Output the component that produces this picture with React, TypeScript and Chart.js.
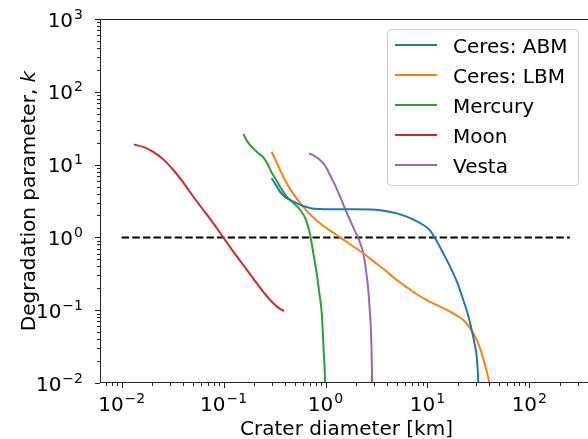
import React, { useEffect, useRef } from "react";
import { Chart, registerables } from "chart.js";

Chart.register(...registerables);

// ---- data ----
const ceresAbmX = [0.296, 0.33, 0.357, 0.4, 0.448, 0.52, 0.605, 0.72, 0.883, 1.1, 1.5, 2.0, 2.73, 3.43, 4.2, 5.0, 6.26, 7.5, 9.12, 10.5, 11.9, 14, 16.7, 19.5, 22.5, 25, 27.2, 29, 30.5, 31.6, 31.9];
const ceresAbmY = [6.49, 5.1, 4.25, 3.6, 3.27, 2.95, 2.7, 2.52, 2.45, 2.43, 2.44, 2.44, 2.42, 2.36, 2.25, 2.14, 1.93, 1.72, 1.48, 1.27, 0.97, 0.64, 0.396, 0.245, 0.138, 0.087, 0.0534, 0.035, 0.023, 0.01, 0.006];

const ceresLbmX = [0.296, 0.33, 0.385, 0.45, 0.583, 0.7, 0.883, 1.1, 1.39, 1.8, 2.35, 3.2, 4.0, 5.0, 6.5, 8.0, 9.84, 12, 15.5, 19, 22.5, 25.5, 28.2, 31, 34.1, 37, 40.5, 41.5];
const ceresLbmY = [15.0, 10.8, 6.82, 4.6, 2.79, 2.09, 1.56, 1.25, 1.0, 0.78, 0.605, 0.43, 0.337, 0.26, 0.2, 0.163, 0.138, 0.12, 0.101, 0.086, 0.0733, 0.06, 0.0482, 0.037, 0.0256, 0.0171, 0.01, 0.008];

const mercuryX = [0.156, 0.172, 0.195, 0.22, 0.245, 0.27, 0.296, 0.332, 0.37, 0.416, 0.48, 0.562, 0.644, 0.705, 0.76, 0.82, 0.87, 0.919, 0.966, 0.985, 0.998];
const mercuryY = [26.3, 20.5, 16.7, 14.3, 12.6, 10.2, 7.8, 6.0, 4.6, 3.62, 3.0, 2.4, 1.73, 1.1, 0.6, 0.321, 0.17, 0.0906, 0.023, 0.013, 0.005];

const moonX = [0.0132, 0.0165, 0.0204, 0.0256, 0.0321, 0.0403, 0.0505, 0.0632, 0.0793, 0.0993, 0.1245, 0.156, 0.195, 0.245, 0.3075, 0.355, 0.392];
const moonY = [18.8, 17.4, 15.0, 11.8, 8.43, 5.64, 3.62, 2.38, 1.56, 1.0, 0.637, 0.418, 0.274, 0.179, 0.1245, 0.105, 0.0975];

const vestaX = [0.689, 0.78, 0.883, 1.0, 1.107, 1.25, 1.39, 1.55, 1.74, 1.92, 2.1, 2.35, 2.5, 2.63, 2.72, 2.8, 2.85, 2.87];
const vestaY = [14.3, 13.1, 11.6, 9.5, 7.19, 5.1, 3.62, 2.5, 1.73, 1.27, 0.97, 0.605, 0.35, 0.189, 0.1, 0.048, 0.017, 0.007];

const thresholdX = [0.01, 250];
const thresholdY = [1, 1];

const seriesLabels = ["Ceres: ABM", "Ceres: LBM", "Mercury", "Moon", "Vesta"];
const seriesColors = ["#1f77b4", "#ff7f0e", "#2ca02c", "#d62728", "#9467bd"];

const xTickExps = [-2, -1, 0, 1, 2];
const yTickExps = [-2, -1, 0, 1, 2, 3];
const xLimits = [Math.pow(10, -2.213), Math.pow(10, 2.625)];
const yLimits = [0.01, 1000];

const xTitle = "Crater diameter [km]";
const yTitleMain = "Degradation parameter, ";
const yTitleItalic = "k";

const FONT = "'DejaVu Sans', sans-serif";

function pts(xs: number[], ys: number[]) {
  return xs.map((x, i) => ({ x, y: ys[i] }));
}

function expStr(e: number) {
  return e < 0 ? "\u2212" + Math.abs(e) : String(e);
}

function drawPow(ctx: CanvasRenderingContext2D, e: number, x: number, baseline: number, align: "center" | "right") {
  ctx.font = `20px ${FONT}`;
  const w10 = ctx.measureText("10").width;
  ctx.font = `14px ${FONT}`;
  const es = expStr(e);
  const we = ctx.measureText(es).width;
  const total = w10 + we + 1;
  const left = align === "center" ? x - total / 2 : x - total;
  ctx.textAlign = "left";
  ctx.textBaseline = "alphabetic";
  ctx.fillStyle = "#000";
  ctx.font = `20px ${FONT}`;
  ctx.fillText("10", left, baseline);
  ctx.font = `14px ${FONT}`;
  ctx.fillText(es, left + w10 + 1, baseline - 8);
}

const axesPlugin = {
  id: "mplAxes",
  afterDraw(chart: any) {
    const ctx: CanvasRenderingContext2D = chart.ctx;
    const { left, right, top, bottom } = chart.chartArea;
    const xs = chart.scales.x;
    const ys = chart.scales.y;
    ctx.save();
    ctx.strokeStyle = "#222";
    ctx.lineWidth = 1;
    ctx.strokeRect(left + 0.5, top + 0.5, right - left - 1, bottom - top - 1);

    const drawXTick = (v: number, len: number) => {
      const px = Math.round(xs.getPixelForValue(v)) + 0.5;
      if (px < left || px > right) return;
      ctx.beginPath();
      ctx.moveTo(px, bottom);
      ctx.lineTo(px, bottom + len);
      ctx.stroke();
    };
    const drawYTick = (v: number, len: number) => {
      const py = Math.round(ys.getPixelForValue(v)) + 0.5;
      if (py < top - 1 || py > bottom + 1) return;
      ctx.beginPath();
      ctx.moveTo(left, py);
      ctx.lineTo(left - len, py);
      ctx.stroke();
    };
    for (let e = -3; e <= 3; e++) {
      for (let m = 2; m <= 9; m++) {
        const v = m * Math.pow(10, e);
        if (v > xLimits[0] && v < xLimits[1]) drawXTick(v, 3);
        if (v > yLimits[0] && v < yLimits[1]) drawYTick(v, 3);
      }
    }
    xTickExps.forEach((e) => drawXTick(Math.pow(10, e), 5));
    yTickExps.forEach((e) => drawYTick(Math.pow(10, e), 5));

    xTickExps.forEach((e) => {
      const px = xs.getPixelForValue(Math.pow(10, e));
      drawPow(ctx, e, px, bottom + 28, "center");
    });
    yTickExps.forEach((e) => {
      const py = ys.getPixelForValue(Math.pow(10, e));
      drawPow(ctx, e, left - 17, py + 7.5, "right");
    });

    ctx.fillStyle = "#000";
    ctx.font = `20px ${FONT}`;
    ctx.textAlign = "center";
    ctx.textBaseline = "alphabetic";
    ctx.fillText(xTitle, (left + right) / 2, bottom + 52);

    ctx.save();
    ctx.translate(35, (top + bottom) / 2);
    ctx.rotate(-Math.PI / 2);
    ctx.font = `20px ${FONT}`;
    const w1 = ctx.measureText(yTitleMain).width;
    ctx.font = `oblique 20px ${FONT}`;
    const w2 = ctx.measureText(yTitleItalic).width;
    const start = -(w1 + w2) / 2;
    ctx.textAlign = "left";
    ctx.font = `20px ${FONT}`;
    ctx.fillText(yTitleMain, start, 0);
    ctx.font = `oblique 20px ${FONT}`;
    ctx.fillText(yTitleItalic, start + w1, 0);
    ctx.restore();

    const bx = 387.5, by = 29.5, bw = 191, bh = 156, r = 4;
    ctx.beginPath();
    ctx.moveTo(bx + r, by);
    ctx.lineTo(bx + bw - r, by);
    ctx.quadraticCurveTo(bx + bw, by, bx + bw, by + r);
    ctx.lineTo(bx + bw, by + bh - r);
    ctx.quadraticCurveTo(bx + bw, by + bh, bx + bw - r, by + bh);
    ctx.lineTo(bx + r, by + bh);
    ctx.quadraticCurveTo(bx, by + bh, bx, by + bh - r);
    ctx.lineTo(bx, by + r);
    ctx.quadraticCurveTo(bx, by, bx + r, by);
    ctx.closePath();
    ctx.fillStyle = "rgba(255,255,255,0.8)";
    ctx.fill();
    ctx.strokeStyle = "#cccccc";
    ctx.lineWidth = 1;
    ctx.stroke();

    const dsets = chart.data.datasets.filter((d: any) => d.label);
    dsets.forEach((d: any, i: number) => {
      const cy = 45 + i * 30;
      ctx.strokeStyle = d.borderColor;
      ctx.lineWidth = 2;
      ctx.beginPath();
      ctx.moveTo(395, cy);
      ctx.lineTo(437, cy);
      ctx.stroke();
      ctx.fillStyle = "#000";
      ctx.font = `20px ${FONT}`;
      ctx.textAlign = "left";
      ctx.textBaseline = "alphabetic";
      ctx.fillText(d.label, 453, cy + 7.5);
    });
    ctx.restore();
  },
};

export default function App() {
  const ref = useRef<HTMLCanvasElement>(null);
  useEffect(() => {
    if (!ref.current) return;
    const allX = [ceresAbmX, ceresLbmX, mercuryX, moonX, vestaX];
    const allY = [ceresAbmY, ceresLbmY, mercuryY, moonY, vestaY];
    const datasets: any[] = seriesLabels.map((label, i) => ({
      label,
      data: pts(allX[i], allY[i]),
      borderColor: seriesColors[i],
      backgroundColor: seriesColors[i],
      borderWidth: 2,
      pointRadius: 0,
      cubicInterpolationMode: "monotone",
      fill: false,
    }));
    datasets.push({
      label: "",
      data: pts(thresholdX, thresholdY),
      borderColor: "#000",
      borderWidth: 2,
      borderDash: [7.4, 3.2],
      pointRadius: 0,
      fill: false,
    });
    const chart = new Chart(ref.current, {
      type: "line",
      data: { datasets },
      options: {
        animation: false,
        responsive: false,
        maintainAspectRatio: false,
        devicePixelRatio: 1,
        layout: { padding: { left: 100, top: 19, right: 7, bottom: 56 } },
        plugins: { legend: { display: false }, tooltip: { enabled: false }, title: { display: false } },
        scales: {
          x: { type: "logarithmic", min: xLimits[0], max: xLimits[1], display: false },
          y: { type: "logarithmic", min: yLimits[0], max: yLimits[1], display: false },
        },
        events: [],
      } as any,
      plugins: [axesPlugin],
    });
    return () => chart.destroy();
  }, []);
  return (
    <div style={{ position: "fixed", left: 0, top: 0, width: 588, height: 439, overflow: "hidden", background: "#fff" }}>
      <canvas ref={ref} width={600} height={439} style={{ width: 600, height: 439, display: "block" }} />
    </div>
  );
}
